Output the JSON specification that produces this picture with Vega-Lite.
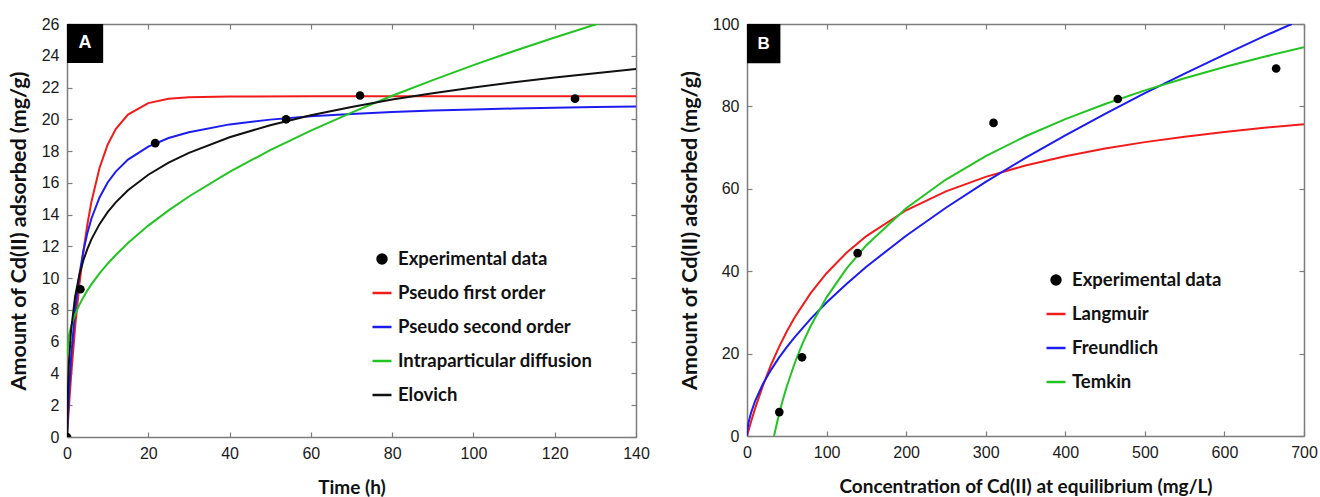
{
  "$schema": "https://vega.github.io/schema/vega-lite/v6.json",
  "padding": {"left": 8, "top": 16, "right": 5, "bottom": 5},
  "background": "white",
  "config": {
    "view": {"stroke": null},
    "axis": {"grid": false, "domainColor": "#7d7d7d", "domainWidth": 1.5, "tickColor": "#7d7d7d", "tickWidth": 1.2, "tickSize": -5, "labelPadding": 13, "labelFont": "Liberation Sans", "labelFontSize": 16, "labelColor": "#1a1a1a", "labelFlush": false, "labelOverlap": false, "titleFont": "Lato", "titleFontWeight": "bold", "titleFontSize": 19, "titleColor": "#111111"},
    "legend": {"padding": 0, "titlePadding": 0, "labelLimit": 0}
  },
  "datasets": {
    "curvesA": [
      {"series": "Pseudo first order", "t": 0, "q": 0},
      {"series": "Pseudo first order", "t": 0.5, "q": 1.99},
      {"series": "Pseudo first order", "t": 1, "q": 3.80},
      {"series": "Pseudo first order", "t": 2, "q": 6.93},
      {"series": "Pseudo first order", "t": 3, "q": 9.50},
      {"series": "Pseudo first order", "t": 4, "q": 11.62},
      {"series": "Pseudo first order", "t": 5, "q": 13.36},
      {"series": "Pseudo first order", "t": 6, "q": 14.79},
      {"series": "Pseudo first order", "t": 8, "q": 16.94},
      {"series": "Pseudo first order", "t": 10, "q": 18.40},
      {"series": "Pseudo first order", "t": 12, "q": 19.38},
      {"series": "Pseudo first order", "t": 15, "q": 20.30},
      {"series": "Pseudo first order", "t": 20, "q": 21.02},
      {"series": "Pseudo first order", "t": 25, "q": 21.29},
      {"series": "Pseudo first order", "t": 30, "q": 21.39},
      {"series": "Pseudo first order", "t": 40, "q": 21.44},
      {"series": "Pseudo first order", "t": 60, "q": 21.45},
      {"series": "Pseudo first order", "t": 100, "q": 21.45},
      {"series": "Pseudo first order", "t": 140, "q": 21.45},
      {"series": "Pseudo second order", "t": 0, "q": 0},
      {"series": "Pseudo second order", "t": 0.5, "q": 2.80},
      {"series": "Pseudo second order", "t": 1, "q": 4.95},
      {"series": "Pseudo second order", "t": 2, "q": 8.04},
      {"series": "Pseudo second order", "t": 3, "q": 10.14},
      {"series": "Pseudo second order", "t": 4, "q": 11.67},
      {"series": "Pseudo second order", "t": 5, "q": 12.83},
      {"series": "Pseudo second order", "t": 6, "q": 13.74},
      {"series": "Pseudo second order", "t": 8, "q": 15.08},
      {"series": "Pseudo second order", "t": 10, "q": 16.02},
      {"series": "Pseudo second order", "t": 12, "q": 16.71},
      {"series": "Pseudo second order", "t": 15, "q": 17.46},
      {"series": "Pseudo second order", "t": 20, "q": 18.28},
      {"series": "Pseudo second order", "t": 25, "q": 18.82},
      {"series": "Pseudo second order", "t": 30, "q": 19.19},
      {"series": "Pseudo second order", "t": 40, "q": 19.68},
      {"series": "Pseudo second order", "t": 50, "q": 19.98},
      {"series": "Pseudo second order", "t": 60, "q": 20.19},
      {"series": "Pseudo second order", "t": 70, "q": 20.34},
      {"series": "Pseudo second order", "t": 80, "q": 20.46},
      {"series": "Pseudo second order", "t": 90, "q": 20.55},
      {"series": "Pseudo second order", "t": 100, "q": 20.62},
      {"series": "Pseudo second order", "t": 110, "q": 20.68},
      {"series": "Pseudo second order", "t": 120, "q": 20.73},
      {"series": "Pseudo second order", "t": 130, "q": 20.77},
      {"series": "Pseudo second order", "t": 140, "q": 20.81},
      {"series": "Intraparticular diffusion", "t": 0, "q": 5.13},
      {"series": "Intraparticular diffusion", "t": 0.5, "q": 6.42},
      {"series": "Intraparticular diffusion", "t": 1, "q": 6.96},
      {"series": "Intraparticular diffusion", "t": 2, "q": 7.72},
      {"series": "Intraparticular diffusion", "t": 3, "q": 8.30},
      {"series": "Intraparticular diffusion", "t": 4, "q": 8.79},
      {"series": "Intraparticular diffusion", "t": 5, "q": 9.22},
      {"series": "Intraparticular diffusion", "t": 6, "q": 9.61},
      {"series": "Intraparticular diffusion", "t": 8, "q": 10.30},
      {"series": "Intraparticular diffusion", "t": 10, "q": 10.91},
      {"series": "Intraparticular diffusion", "t": 12, "q": 11.46},
      {"series": "Intraparticular diffusion", "t": 15, "q": 12.21},
      {"series": "Intraparticular diffusion", "t": 20, "q": 13.31},
      {"series": "Intraparticular diffusion", "t": 25, "q": 14.27},
      {"series": "Intraparticular diffusion", "t": 30, "q": 15.14},
      {"series": "Intraparticular diffusion", "t": 40, "q": 16.69},
      {"series": "Intraparticular diffusion", "t": 50, "q": 18.06},
      {"series": "Intraparticular diffusion", "t": 60, "q": 19.29},
      {"series": "Intraparticular diffusion", "t": 70, "q": 20.42},
      {"series": "Intraparticular diffusion", "t": 80, "q": 21.48},
      {"series": "Intraparticular diffusion", "t": 90, "q": 22.47},
      {"series": "Intraparticular diffusion", "t": 100, "q": 23.41},
      {"series": "Intraparticular diffusion", "t": 110, "q": 24.30},
      {"series": "Intraparticular diffusion", "t": 120, "q": 25.15},
      {"series": "Intraparticular diffusion", "t": 130, "q": 25.97},
      {"series": "Intraparticular diffusion", "t": 140, "q": 26.76},
      {"series": "Elovich", "t": 0, "q": 0},
      {"series": "Elovich", "t": 0.25, "q": 3.18},
      {"series": "Elovich", "t": 0.5, "q": 4.80},
      {"series": "Elovich", "t": 1, "q": 6.72},
      {"series": "Elovich", "t": 2, "q": 8.85},
      {"series": "Elovich", "t": 3, "q": 10.15},
      {"series": "Elovich", "t": 4, "q": 11.10},
      {"series": "Elovich", "t": 5, "q": 11.83},
      {"series": "Elovich", "t": 6, "q": 12.44},
      {"series": "Elovich", "t": 8, "q": 13.40},
      {"series": "Elovich", "t": 10, "q": 14.16},
      {"series": "Elovich", "t": 12, "q": 14.77},
      {"series": "Elovich", "t": 15, "q": 15.53},
      {"series": "Elovich", "t": 20, "q": 16.51},
      {"series": "Elovich", "t": 25, "q": 17.27},
      {"series": "Elovich", "t": 30, "q": 17.89},
      {"series": "Elovich", "t": 40, "q": 18.87},
      {"series": "Elovich", "t": 50, "q": 19.63},
      {"series": "Elovich", "t": 60, "q": 20.25},
      {"series": "Elovich", "t": 70, "q": 20.78},
      {"series": "Elovich", "t": 80, "q": 21.24},
      {"series": "Elovich", "t": 90, "q": 21.64},
      {"series": "Elovich", "t": 100, "q": 22.00},
      {"series": "Elovich", "t": 110, "q": 22.33},
      {"series": "Elovich", "t": 120, "q": 22.63},
      {"series": "Elovich", "t": 130, "q": 22.90},
      {"series": "Elovich", "t": 140, "q": 23.16}
    ],
    "pointsA": [
      {"series": "Experimental data", "t": 0, "q": 0},
      {"series": "Experimental data", "t": 3.3, "q": 9.3},
      {"series": "Experimental data", "t": 21.7, "q": 18.5},
      {"series": "Experimental data", "t": 53.9, "q": 20.0},
      {"series": "Experimental data", "t": 72.1, "q": 21.5},
      {"series": "Experimental data", "t": 125, "q": 21.3}
    ],
    "curvesB": [
      {"series": "Langmuir", "c": 0, "q": 0},
      {"series": "Langmuir", "c": 2, "q": 1.40},
      {"series": "Langmuir", "c": 5, "q": 3.41},
      {"series": "Langmuir", "c": 10, "q": 6.57},
      {"series": "Langmuir", "c": 20, "q": 12.23},
      {"series": "Langmuir", "c": 30, "q": 17.17},
      {"series": "Langmuir", "c": 40, "q": 21.52},
      {"series": "Langmuir", "c": 50, "q": 25.37},
      {"series": "Langmuir", "c": 60, "q": 28.81},
      {"series": "Langmuir", "c": 80, "q": 34.68},
      {"series": "Langmuir", "c": 100, "q": 39.51},
      {"series": "Langmuir", "c": 125, "q": 44.47},
      {"series": "Langmuir", "c": 150, "q": 48.53},
      {"series": "Langmuir", "c": 200, "q": 54.79},
      {"series": "Langmuir", "c": 250, "q": 59.38},
      {"series": "Langmuir", "c": 300, "q": 62.89},
      {"series": "Langmuir", "c": 350, "q": 65.66},
      {"series": "Langmuir", "c": 400, "q": 67.91},
      {"series": "Langmuir", "c": 450, "q": 69.77},
      {"series": "Langmuir", "c": 500, "q": 71.33},
      {"series": "Langmuir", "c": 550, "q": 72.66},
      {"series": "Langmuir", "c": 600, "q": 73.80},
      {"series": "Langmuir", "c": 650, "q": 74.80},
      {"series": "Langmuir", "c": 700, "q": 75.68},
      {"series": "Freundlich", "c": 0, "q": 0},
      {"series": "Freundlich", "c": 0.5, "q": 1.45},
      {"series": "Freundlich", "c": 1, "q": 2.18},
      {"series": "Freundlich", "c": 2, "q": 3.27},
      {"series": "Freundlich", "c": 5, "q": 5.60},
      {"series": "Freundlich", "c": 10, "q": 8.40},
      {"series": "Freundlich", "c": 20, "q": 12.62},
      {"series": "Freundlich", "c": 30, "q": 16.00},
      {"series": "Freundlich", "c": 40, "q": 18.95},
      {"series": "Freundlich", "c": 50, "q": 21.58},
      {"series": "Freundlich", "c": 60, "q": 24.01},
      {"series": "Freundlich", "c": 80, "q": 28.43},
      {"series": "Freundlich", "c": 100, "q": 32.39},
      {"series": "Freundlich", "c": 125, "q": 36.91},
      {"series": "Freundlich", "c": 150, "q": 41.09},
      {"series": "Freundlich", "c": 200, "q": 48.62},
      {"series": "Freundlich", "c": 250, "q": 55.40},
      {"series": "Freundlich", "c": 300, "q": 61.69},
      {"series": "Freundlich", "c": 350, "q": 67.51},
      {"series": "Freundlich", "c": 400, "q": 72.99},
      {"series": "Freundlich", "c": 450, "q": 78.20},
      {"series": "Freundlich", "c": 500, "q": 83.21},
      {"series": "Freundlich", "c": 550, "q": 87.98},
      {"series": "Freundlich", "c": 600, "q": 92.58},
      {"series": "Freundlich", "c": 650, "q": 97.05},
      {"series": "Freundlich", "c": 684.6, "q": 100},
      {"series": "Temkin", "c": 34, "q": 0},
      {"series": "Temkin", "c": 36, "q": 1.78},
      {"series": "Temkin", "c": 38, "q": 3.47},
      {"series": "Temkin", "c": 41, "q": 5.84},
      {"series": "Temkin", "c": 45, "q": 8.75},
      {"series": "Temkin", "c": 50, "q": 12.03},
      {"series": "Temkin", "c": 60, "q": 17.72},
      {"series": "Temkin", "c": 70, "q": 22.53},
      {"series": "Temkin", "c": 80, "q": 26.70},
      {"series": "Temkin", "c": 100, "q": 33.66},
      {"series": "Temkin", "c": 125, "q": 40.62},
      {"series": "Temkin", "c": 150, "q": 46.31},
      {"series": "Temkin", "c": 200, "q": 55.29},
      {"series": "Temkin", "c": 250, "q": 62.25},
      {"series": "Temkin", "c": 300, "q": 67.94},
      {"series": "Temkin", "c": 350, "q": 72.75},
      {"series": "Temkin", "c": 400, "q": 76.91},
      {"series": "Temkin", "c": 450, "q": 80.59},
      {"series": "Temkin", "c": 500, "q": 83.88},
      {"series": "Temkin", "c": 550, "q": 86.85},
      {"series": "Temkin", "c": 600, "q": 89.56},
      {"series": "Temkin", "c": 650, "q": 92.06},
      {"series": "Temkin", "c": 700, "q": 94.37}
    ],
    "pointsB": [
      {"series": "Experimental data", "c": 40.6, "q": 5.8},
      {"series": "Experimental data", "c": 69.1, "q": 19.1},
      {"series": "Experimental data", "c": 139, "q": 44.4},
      {"series": "Experimental data", "c": 309.8, "q": 76.0},
      {"series": "Experimental data", "c": 466, "q": 81.8},
      {"series": "Experimental data", "c": 665, "q": 89.2}
    ]
  },
  "resolve": {"scale": {"color": "independent"}, "legend": {"color": "independent"}},
  "spacing": 29,
  "hconcat": [
    {
      "width": 569,
      "height": 413,
      "resolve": {"axis": {"x": "independent", "y": "independent"}},
      "layer": [
        {
          "data": {"name": "curvesA"},
          "mark": {"type": "line", "strokeWidth": 2, "clip": true},
          "encoding": {
            "x": {"field": "t", "type": "quantitative", "scale": {"domain": [0, 140], "nice": false, "zero": true}, "axis": {"orient": "bottom", "values": [0, 20, 40, 60, 80, 100, 120, 140], "title": "Time (h)", "titlePadding": 17}},
            "y": {"field": "q", "type": "quantitative", "scale": {"domain": [0, 26], "nice": false}, "axis": {"orient": "left", "values": [0, 2, 4, 6, 8, 10, 12, 14, 16, 18, 20, 22, 24, 26], "title": "Amount of Cd(II) adsorbed (mg/g)", "titleFontSize": 21.5, "titlePadding": 11}},
            "color": {
              "field": "series", "type": "nominal",
              "scale": {"domain": ["Experimental data", "Pseudo first order", "Pseudo second order", "Intraparticular diffusion", "Elovich"], "range": ["#000000", "#f01c1c", "#1c1cf0", "#22c422", "#111111"]},
              "legend": {
                "orient": "none", "legendX": 304, "legendY": 224, "title": null, "rowPadding": 13,
                "labelFont": "Lato", "labelFontWeight": "bold", "labelFontSize": 18.5, "labelColor": "#111111", "labelOffset": 5, "labelLimit": 0,
                "symbolSize": 361, "symbolStrokeWidth": 2.5,
                "encode": {"symbols": {"update": {
                  "shape": {"signal": "datum.value === 'Experimental data' ? 'circle' : 'stroke'"},
                  "size": {"signal": "datum.value === 'Experimental data' ? 80 : 361"},
                  "fill": {"signal": "datum.value === 'Experimental data' ? '#000000' : 'transparent'"},
                  "stroke": {"signal": "datum.value === 'Experimental data' ? 'transparent' : datum.value === 'Pseudo first order' ? '#ee4444' : datum.value === 'Pseudo second order' ? '#3d8fd8' : datum.value === 'Intraparticular diffusion' ? '#33bf6a' : '#222222'"},
                  "strokeWidth": {"value": 2.5},
                  "opacity": {"value": 1}
                }}}
              }
            }
          }
        },
        {
          "data": {"name": "pointsA"},
          "mark": {"type": "circle", "size": 75, "opacity": 1, "clip": true},
          "encoding": {
            "x": {"field": "t", "type": "quantitative", "axis": {"orient": "top", "labels": false, "title": null, "values": [0, 20, 40, 60, 80, 100, 120, 140]}},
            "y": {"field": "q", "type": "quantitative", "axis": {"orient": "right", "labels": false, "title": null, "values": [0, 2, 4, 6, 8, 10, 12, 14, 16, 18, 20, 22, 24, 26]}},
            "color": {"field": "series", "type": "nominal"}
          }
        },
        {
          "data": {"values": [{"label": "A"}]},
          "mark": {"type": "rect", "color": "#000000"},
          "encoding": {
            "x": {"datum": 0, "type": "quantitative", "axis": null},
            "x2": {"datum": 8.9},
            "y": {"datum": 23.55, "type": "quantitative", "axis": null},
            "y2": {"datum": 26}
          }
        },
        {
          "data": {"values": [{"label": "A"}]},
          "mark": {"type": "text", "color": "#ffffff", "font": "Liberation Sans", "fontWeight": "bold", "fontSize": 18, "baseline": "middle", "align": "center"},
          "encoding": {
            "x": {"datum": 4.45, "type": "quantitative", "axis": null},
            "y": {"datum": 24.78, "type": "quantitative", "axis": null},
            "text": {"field": "label"}
          }
        }
      ]
    },
    {
      "width": 557,
      "height": 412,
      "resolve": {"axis": {"x": "independent", "y": "independent"}},
      "layer": [
        {
          "data": {"name": "curvesB"},
          "mark": {"type": "line", "strokeWidth": 2, "clip": true},
          "encoding": {
            "x": {"field": "c", "type": "quantitative", "scale": {"domain": [0, 700], "nice": false}, "axis": {"orient": "bottom", "values": [0, 100, 200, 300, 400, 500, 600, 700], "title": "Concentration of Cd(II) at equilibrium (mg/L)", "titlePadding": 17}},
            "y": {"field": "q", "type": "quantitative", "scale": {"domain": [0, 100], "nice": false}, "axis": {"orient": "left", "values": [0, 20, 40, 60, 80, 100], "title": "Amount of Cd(II) adsorbed (mg/g)", "titleFontSize": 21.5, "titlePadding": 11}},
            "color": {
              "field": "series", "type": "nominal",
              "scale": {"domain": ["Experimental data", "Langmuir", "Freundlich", "Temkin"], "range": ["#000000", "#f01c1c", "#1c1cf0", "#22c422"]},
              "legend": {
                "orient": "none", "legendX": 298, "legendY": 245, "title": null, "rowPadding": 13,
                "labelFont": "Lato", "labelFontWeight": "bold", "labelFontSize": 18.5, "labelColor": "#111111", "labelOffset": 5, "labelLimit": 0,
                "symbolSize": 361, "symbolStrokeWidth": 2.5,
                "encode": {"symbols": {"update": {
                  "shape": {"signal": "datum.value === 'Experimental data' ? 'circle' : 'stroke'"},
                  "size": {"signal": "datum.value === 'Experimental data' ? 80 : 361"},
                  "fill": {"signal": "datum.value === 'Experimental data' ? '#000000' : 'transparent'"},
                  "stroke": {"signal": "datum.value === 'Experimental data' ? 'transparent' : datum.value === 'Langmuir' ? '#ee4444' : datum.value === 'Freundlich' ? '#3d8fd8' : '#33bf6a'"},
                  "strokeWidth": {"value": 2.5},
                  "opacity": {"value": 1}
                }}}
              }
            }
          }
        },
        {
          "data": {"name": "pointsB"},
          "mark": {"type": "circle", "size": 75, "opacity": 1, "clip": true},
          "encoding": {
            "x": {"field": "c", "type": "quantitative", "axis": {"orient": "top", "labels": false, "title": null, "values": [0, 100, 200, 300, 400, 500, 600, 700]}},
            "y": {"field": "q", "type": "quantitative", "axis": {"orient": "right", "labels": false, "title": null, "values": [0, 20, 40, 60, 80, 100]}},
            "color": {"field": "series", "type": "nominal"}
          }
        },
        {
          "data": {"values": [{"label": "B"}]},
          "mark": {"type": "rect", "color": "#000000"},
          "encoding": {
            "x": {"datum": 0, "type": "quantitative", "axis": null},
            "x2": {"datum": 42},
            "y": {"datum": 90.5, "type": "quantitative", "axis": null},
            "y2": {"datum": 100}
          }
        },
        {
          "data": {"values": [{"label": "B"}]},
          "mark": {"type": "text", "color": "#ffffff", "font": "Liberation Sans", "fontWeight": "bold", "fontSize": 17, "baseline": "middle", "align": "center"},
          "encoding": {
            "x": {"datum": 21, "type": "quantitative", "axis": null},
            "y": {"datum": 95.2, "type": "quantitative", "axis": null},
            "text": {"field": "label"}
          }
        }
      ]
    }
  ]
}
